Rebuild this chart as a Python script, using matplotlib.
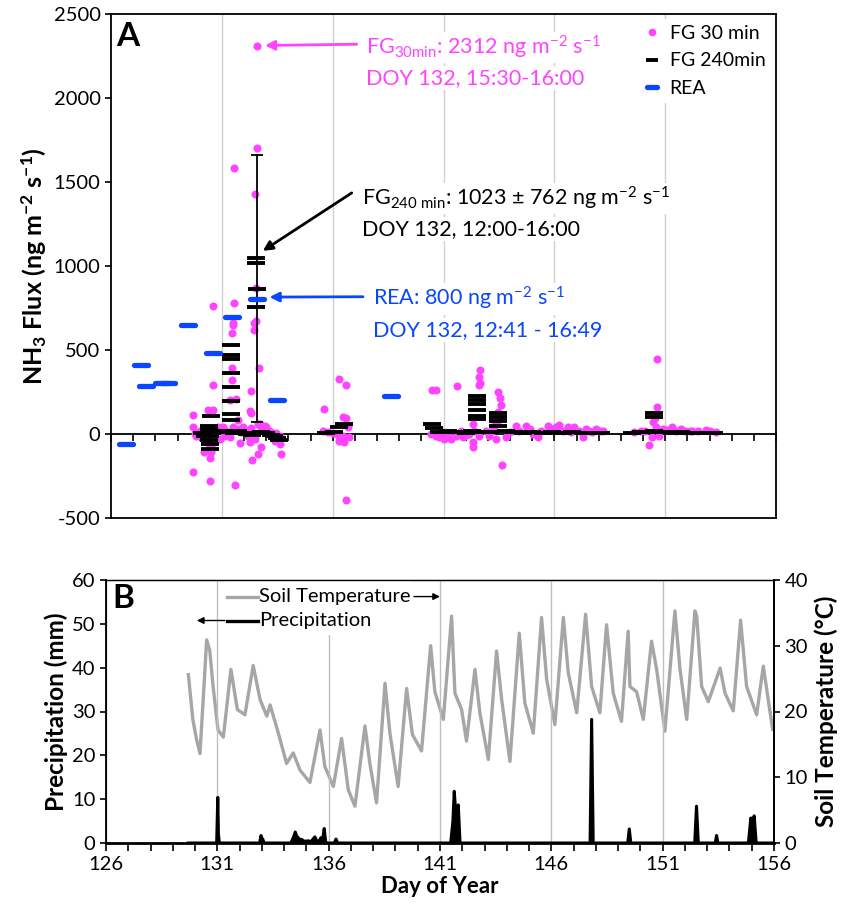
import matplotlib
matplotlib.use("Agg")
import matplotlib.pyplot as plt
from matplotlib.lines import Line2D
from matplotlib.markers import MarkerStyle
from matplotlib.patches import Rectangle

plt.rcParams['font.family'] = ['Lato', 'DejaVu Sans']
plt.rcParams['mathtext.fontset'] = 'custom'
plt.rcParams['mathtext.rm'] = 'Lato'
plt.rcParams['mathtext.it'] = 'Lato:italic'
plt.rcParams['mathtext.bf'] = 'Lato:bold'
plt.rcParams['mathtext.default'] = 'regular'
plt.rcParams['axes.unicode_minus'] = False

MAGENTA = '#FF44FF'
BLUE = '#0A46FF'
GRAY = '#A6A6A6'

# ---------------- Panel A data ----------------
fg30_doy = [132.57, 132.57, 131.56, 132.49,
            132.52, 131.53, 130.59, 132.55, 131.50, 132.43, 131.50, 132.43, 131.45,
            132.66, 131.45, 131.45, 130.59, 132.30, 131.65, 131.38, 132.25, 132.30, 129.69,
            130.37, 130.59, 131.72, 132.70, 132.97,
            129.69, 129.77, 129.84, 130.19, 130.52, 130.47, 131.80, 132.25, 132.78, 132.63,
            132.37, 133.65, 129.69, 130.47, 131.60,
            130.22, 130.29, 130.41, 130.52, 130.59, 130.82, 131.05, 131.20, 131.35, 131.50,
            131.72, 131.87, 131.95, 132.10, 132.17, 132.33, 132.63, 132.78, 132.93, 133.08,
            133.23, 133.45, 133.61, 133.38, 133.61, 130.00, 130.10, 130.90, 131.10, 132.50,
            136.30, 136.60, 135.59, 136.45, 136.60, 136.53, 136.38, 136.60, 135.55, 135.77,
            136.00, 136.23, 136.45, 136.68, 136.75, 136.30,
            140.50, 140.68, 141.60, 142.64, 142.58, 142.64, 142.61, 143.48, 143.55, 143.59,
            143.47, 143.51, 143.40, 143.29, 142.31, 142.39, 142.31, 142.31, 143.64,
            140.43, 140.65, 140.80, 141.03, 141.33, 141.56, 141.86, 142.16, 142.61, 143.06,
            143.36, 143.82, 144.27, 144.72, 145.02, 145.25, 145.70, 146.08, 146.23, 146.60,
            146.90, 147.28, 147.58, 147.88, 148.20, 140.90, 141.20, 141.80, 142.00, 142.90,
            143.20, 144.00, 144.40, 144.90, 145.40, 145.90, 146.40, 146.75, 147.10, 147.45,
            147.70, 148.05,
            150.61, 150.61, 150.55, 150.43, 150.58, 150.28, 149.60, 149.90, 150.10, 150.40,
            150.70, 150.90, 151.10, 151.33, 151.50, 151.70, 151.90, 152.10, 152.23, 152.50,
            152.83, 153.00, 153.30]
fg30_flux = [2312, 1704, 1584, 1428,
             870, 780, 760, 670, 660, 660, 650, 620, 600,
             390, 390, 320, 294, 256, 210, 200, 134, 124, 114,
             140, 140, 84, 60, 44,
             40, 4, -10, -110, -110, -140, -56, -50, -80, -120,
             -156, -120, -224, -280, -306,
             30, -40, -60, -70, 10, 40, 44, 20, -20, 40,
             30, 10, 40, 20, -10, 34, 60, 40, 50, 24,
             10, 4, -10, -40, -60, 20, -20, -30, -10, -30,
             330, 290, 150, 104, 96, -50, -20, -394, 16, 10,
             4, -4, -10, 40, -20, -40,
             260, 264, 284, 380, 340, 304, 290, 250, 216, 170,
             130, 100, 70, 50, 60, 20, -50, -80, -184,
             0, -10, -20, -30, -30, -10, -20, 0, -10, -10,
             -30, -20, 50, 50, 0, -20, 50, 40, 56, 40,
             40, -20, 20, 30, 15, 10, 5, 15, -5, 20,
             15, 10, 20, 30, 20, 30, 20, 10, 15, 30,
             10, 20,
             444, 160, 95, 70, 40, -64, 10, 20, 15, -20,
             -10, 30, 25, 40, 20, 30, 15, 20, 20, 15,
             24, 15, 10]

fg240_doy = [130.52, 130.43, 130.40, 130.40, 130.45, 130.40, 130.47, 130.47, 130.10, 130.25,
             131.42, 131.42, 131.42, 131.42, 131.42, 131.42, 131.42, 131.40,
             131.10, 131.30, 131.55, 131.75, 131.95, 132.15, 132.35, 132.75, 133.00, 133.20,
             132.52, 132.52, 132.52,
             133.35, 133.50, 133.60,
             135.70, 136.05, 136.30, 136.50,
             140.50, 140.55,
             140.80, 141.20, 141.60, 142.00, 142.30, 142.80, 143.10, 143.80, 144.20, 144.60,
             145.00, 145.50, 145.90, 146.40, 146.80, 147.30, 147.70, 148.10,
             142.52, 142.52, 142.52, 142.52, 142.52, 142.52,
             143.44, 143.44, 143.44, 143.44,
             150.50, 150.50,
             149.50, 149.90, 150.20, 150.50, 150.90, 151.30, 151.70, 152.10, 152.50, 152.90, 153.20]
fg240_flux = [106, 50, 30, 10, -10, -36, -60, -88, 8, -10,
              532, 468, 448, 364, 280, 195, 120, 84,
              20, 10, 5, 15, 8, 2, -5, 10, 5, -5,
              1046, 1020, 756,
              -10, -25, -35,
              4, 10, 44, 60,
              58, 35,
              10, 15, 12, 8, 20, 14, 10, 18, 12, 8,
              10, 6, 12, 8, 10, 6, 8, 5,
              225, 205, 180, 144, 105, 88,
              125, 103, 75, 48,
              124, 104,
              6, 10, 14, 20, 12, 8, 10, 6, 8, 5, 4]

# FG240 value with error bar (DOY 132, 12:00-16:00)
fg240_err_doy = [132.57]
fg240_err_flux = [866]
fg240_err = [792]

rea_doy = [126.69, 127.36, 127.57, 128.32, 128.56, 129.48, 130.58, 131.44, 132.58, 133.48, 138.61]
rea_flux = [-62, 408, 288, 304, 304, 648, 484, 694, 805, 204, 224]

grid_days = [131, 136, 141, 146, 151]

# ---------------- Panel B data ----------------
soil_doy = [129.70, 129.90, 130.07, 130.22, 130.40, 130.52, 130.66, 130.81, 131.03, 131.27,
            131.61, 131.90, 132.24, 132.61, 132.92, 133.22, 133.37, 133.74, 134.11, 134.41,
            134.71, 135.16, 135.61, 135.83, 136.21, 136.58, 136.88, 137.18, 137.63, 137.85,
            138.15, 138.53, 138.75, 139.12, 139.50, 139.76, 140.17, 140.58, 140.77, 141.15,
            141.52, 141.67, 141.97, 142.19, 142.57, 142.79, 143.17, 143.54, 143.77, 144.14,
            144.56, 144.81, 145.19, 145.56, 145.79, 146.16, 146.54, 146.76, 147.14, 147.54,
            147.81, 148.18, 148.48, 148.78, 149.15, 149.45, 149.53, 149.83, 150.13, 150.50,
            150.73, 151.10, 151.55, 151.78, 152.08, 152.45, 152.53, 152.75, 153.05, 153.58,
            153.80, 154.17, 154.50, 154.77, 155.22, 155.52, 155.74, 155.94]
soil_temp = [25.6, 18.8, 15.7, 13.6, 23.8, 30.9, 29.3, 23.8, 17.2, 16.1,
             26.4, 20.3, 19.5, 27.0, 21.8, 19.3, 21.0, 16.7, 12.1, 13.7,
             11.1, 9.2, 17.2, 11.6, 8.6, 15.9, 8.1, 5.6, 17.8, 12.1,
             6.1, 24.3, 16.7, 8.6, 23.5, 16.5, 14.0, 30.0, 23.0, 18.8,
             34.5, 22.8, 20.3, 15.5, 26.4, 19.8, 12.7, 29.2, 21.8, 12.4,
             31.9, 21.3, 16.7, 34.3, 24.9, 18.0, 34.3, 25.9, 19.8, 34.8,
             23.8, 19.8, 33.2, 22.8, 18.5, 32.2, 23.8, 23.0, 18.8, 30.7,
             26.4, 17.0, 35.3, 26.4, 18.8, 35.3, 34.5, 23.8, 21.5, 26.6,
             22.8, 20.1, 33.9, 23.8, 19.5, 26.9, 21.8, 17.3]

precip_doy = [129.70, 130.97, 131.02, 131.05, 131.09, 132.90, 132.96, 133.00, 133.04, 133.10,
              134.30, 134.41, 134.50, 134.56, 134.63, 134.71, 134.80, 134.86, 134.95, 135.08,
              135.20, 135.30, 135.38, 135.46, 135.56, 135.65, 135.72, 135.80, 135.86, 135.92,
              136.25, 136.33, 136.40, 141.48, 141.58, 141.64, 141.72, 141.82, 141.90, 147.74,
              147.81, 147.88, 149.43, 149.50, 149.57, 152.44, 152.52, 152.60, 153.36, 153.42,
              153.48, 154.85, 154.96, 155.04, 155.11, 155.20, 156.00]
precip_mm = [0, 0, 10.4, 2.0, 0, 0, 1.7, 1.0, 0.9, 0,
             0, 1.2, 2.5, 1.6, 1.2, 0.8, 0.8, 0.5, 0.4, 0.5,
             0.3, 0.9, 1.4, 0.5, 0.4, 1.2, 0.3, 3.3, 0.4, 0,
             0, 0.9, 0, 0, 5.0, 11.8, 6.0, 8.7, 0, 0,
             28.2, 0, 0, 3.2, 0, 0, 8.4, 0, 0, 1.7,
             0, 0, 5.7, 4.5, 6.2, 0, 0]

# ---------------- Figure ----------------
fig = plt.figure(figsize=(8.55, 9.13), dpi=100)
axA = fig.add_axes([111/855, 1-518/913, 665/855, 504/913])
axB = fig.add_axes([106/855, 1-843/913, 668/855, 263/913])

LABEL_FS = 17.5
TICK_FS = 14.5

# ---- Panel A ----
for d in grid_days:
    axA.axvline(d, color='#D0D0D0', lw=1.0, zorder=0)
axA.plot(fg30_doy, fg30_flux, 'o', color=MAGENTA, ms=5.8, mec='none', zorder=2,
         label='FG 30 min')
axA.errorbar(fg240_err_doy, fg240_err_flux, yerr=fg240_err, fmt='none', ecolor='black',
             elinewidth=1.3, capsize=4.5, capthick=1.3, zorder=3)
axA.plot(fg240_doy + fg240_err_doy, fg240_flux + fg240_err_flux, ls='none',
         marker='_', color='black', ms=13, mew=2.8, zorder=4, label='FG 240min')
rea_marker = MarkerStyle('_', capstyle='round')
axA.plot(rea_doy, rea_flux, ls='none', marker=rea_marker, color=BLUE, ms=9.5, mew=3.8,
         zorder=5, label='REA')

axA.set_xlim(126, 156)
axA.set_ylim(-500, 2500)
axA.set_yticks([-500, 0, 500, 1000, 1500, 2000, 2500])
axA.set_xticks(list(range(126, 157)))
axA.set_xticklabels([])
axA.spines['bottom'].set_position(('data', 0))
axA.spines['bottom'].set_linewidth(1.3)
axA.spines['bottom'].set_zorder(1)
axA.plot([0, 1], [0, 0], transform=axA.transAxes, color='black', lw=1.3, clip_on=False)
for s in ['left', 'top', 'right']:
    axA.spines[s].set_linewidth(1.3)
axA.tick_params(axis='x', direction='out', length=5, width=1.2)
axA.tick_params(axis='y', direction='out', length=4, width=1.2, labelsize=TICK_FS)
axA.set_ylabel(r'NH$_\mathbf{3}$ Flux (ng m$^\mathbf{-2}$ s$^\mathbf{-1}$)', fontsize=18,
               fontweight='bold', labelpad=3)
axA.text(0.008, 0.956, 'A', transform=axA.transAxes, fontsize=24, fontweight='bold',
         va='center', ha='left')

handles = [Line2D([], [], ls='none', marker='o', color=MAGENTA, ms=5.5, mec='none'),
           Line2D([], [], ls='none', marker='_', color='black', ms=9, mew=2.8),
           Line2D([], [], ls='none', marker=rea_marker, color=BLUE, ms=7, mew=3.8)]
leg = axA.legend(handles, ['FG 30 min', 'FG 240min', 'REA'], loc='upper right',
                 fontsize=14, frameon=True, facecolor='white', edgecolor='none',
                 framealpha=1, handlelength=0.8, handletextpad=0.5, labelspacing=0.55,
                 borderaxespad=0.25, borderpad=0.3)
leg.set_zorder(6)

ANN_FS = 15.5
bb = dict(facecolor='white', edgecolor='none', pad=1.5)
axA.annotate('', xy=(132.57, 2312), xytext=(0.3695, 0.940), textcoords='axes fraction',
             arrowprops=dict(arrowstyle='-|>', color=MAGENTA, lw=2.0, mutation_scale=14,
                             shrinkA=0, shrinkB=6), zorder=6)
axA.text(0.383, 0.934, r'FG$_{30min}$: 2312 ng m$^{-2}$ s$^{-1}$', transform=axA.transAxes,
         color=MAGENTA, fontsize=ANN_FS, va='center', ha='left', bbox=bb, zorder=6)
axA.text(0.383, 0.873, 'DOY 132, 15:30-16:00', transform=axA.transAxes,
         color=MAGENTA, fontsize=ANN_FS, va='center', ha='left', bbox=bb, zorder=6)

axA.annotate('', xy=(132.85, 1090), xytext=(0.362, 0.645), textcoords='axes fraction',
             arrowprops=dict(arrowstyle='-|>', color='black', lw=2.0, mutation_scale=14,
                             shrinkA=0, shrinkB=0), zorder=6)
axA.text(0.377, 0.634, r'FG$_{240\ min}$: 1023 ± 762 ng m$^{-2}$ s$^{-1}$',
         transform=axA.transAxes, color='black', fontsize=ANN_FS, va='center', ha='left',
         bbox=bb, zorder=6)
axA.text(0.377, 0.573, 'DOY 132, 12:00-16:00', transform=axA.transAxes,
         color='black', fontsize=ANN_FS, va='center', ha='left', bbox=bb, zorder=6)

axA.annotate('', xy=(133.15, 815), xytext=(0.379, 0.439), textcoords='axes fraction',
             arrowprops=dict(arrowstyle='-|>', color=BLUE, lw=2.0, mutation_scale=14,
                             shrinkA=0, shrinkB=0), zorder=6)
axA.text(0.394, 0.435, r'REA: 800 ng m$^{-2}$ s$^{-1}$', transform=axA.transAxes,
         color=BLUE, fontsize=ANN_FS, va='center', ha='left', bbox=bb, zorder=6)
axA.text(0.394, 0.373, 'DOY 132, 12:41 - 16:49', transform=axA.transAxes,
         color=BLUE, fontsize=ANN_FS, va='center', ha='left', bbox=bb, zorder=6)

# ---- Panel B ----
for d in grid_days:
    axB.axvline(d, color='#C0C0C0', lw=1.0, zorder=0)
axB.add_patch(Rectangle((0.178, 0.79), 0.28, 0.21, transform=axB.transAxes,
                        facecolor='white', edgecolor='none', zorder=1))
axB.fill_between(precip_doy, precip_mm, 0, color='black', lw=0, zorder=3)
axB.plot(precip_doy, precip_mm, color='black', lw=2.2, zorder=3)
axB.set_xlim(126, 156)
axB.set_ylim(0, 60)
axB.set_yticks(range(0, 61, 10))
axB.set_xticks(range(126, 157, 5))
axB.set_xticks(range(126, 157), minor=True)
axB.tick_params(axis='x', which='both', direction='out', length=6, width=1.2, labelsize=TICK_FS)
axB.tick_params(axis='y', direction='out', length=4, width=1.2, labelsize=TICK_FS)
axB.spines['bottom'].set_linewidth(2.0)
axB.spines['left'].set_linewidth(1.3)
axB.spines['top'].set_linewidth(1.0)
axB.spines['right'].set_linewidth(1.3)
axB.set_ylabel('Precipitation (mm)', fontsize=LABEL_FS, fontweight='bold', labelpad=3)
axB.set_xlabel('Day of Year', fontsize=16, fontweight='bold', labelpad=2)

axT = axB.twinx()
axT.plot(soil_doy, soil_temp, color=GRAY, lw=2.4, zorder=2)
axT.set_ylim(0, 40)
axT.set_yticks(range(0, 41, 10))
axT.tick_params(axis='y', direction='out', length=4, width=1.2, labelsize=TICK_FS)
axT.spines['right'].set_linewidth(1.3)
axT.set_ylabel('Soil Temperature (°C)', fontsize=LABEL_FS, fontweight='bold', labelpad=5)
axB.set_zorder(axT.get_zorder() + 1)
axB.patch.set_visible(False)

axB.text(0.01, 0.928, 'B', transform=axB.transAxes, fontsize=24, fontweight='bold',
         va='center', ha='left')
LEG_FS = 14.5
axB.plot([0.181, 0.228], [0.937, 0.937], transform=axB.transAxes, color=GRAY, lw=2.4,
         clip_on=False, zorder=4)
axB.text(0.229, 0.937, 'Soil Temperature', transform=axB.transAxes, fontsize=LEG_FS,
         va='center', ha='left', zorder=4)
axB.annotate('', xy=(0.5, 0.937), xytext=(0.461, 0.937), xycoords='axes fraction',
             arrowprops=dict(arrowstyle='-|>', color='black', lw=1.0, mutation_scale=10,
                             shrinkA=0, shrinkB=0), zorder=4)
axB.plot([0.181, 0.228], [0.846, 0.846], transform=axB.transAxes, color='black', lw=2.4,
         clip_on=False, zorder=4)
axB.text(0.229, 0.846, 'Precipitation', transform=axB.transAxes, fontsize=LEG_FS,
         va='center', ha='left', zorder=4)
axB.annotate('', xy=(0.136, 0.846), xytext=(0.178, 0.846), xycoords='axes fraction',
             arrowprops=dict(arrowstyle='-|>', color='black', lw=1.0, mutation_scale=10,
                             shrinkA=0, shrinkB=0), zorder=4)

fig.savefig('out.png', dpi=100)
